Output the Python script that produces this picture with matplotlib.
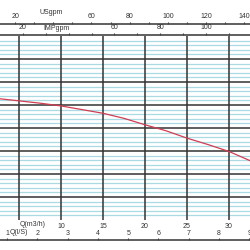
import matplotlib
matplotlib.use("Agg")
import matplotlib.pyplot as plt

# data
flow_m3h = [2.5, 5, 7.5, 10, 12.5, 15, 17.5, 20, 22.5, 25, 27.5, 30, 32.5]
head = [26.4, 25.9, 25.4, 24.8, 24.0, 23.2, 22.1, 20.7, 19.4, 17.8, 16.4, 14.9, 12.9]

m3h_ticks = [5, 10, 15, 20, 25, 30]
m3h_labels = ["", "10", "15", "20", "25", "30"]
lps_ticks = [1, 2, 3, 4, 5, 6, 7, 8, 9]
usgpm_ticks = [10, 20, 30, 40, 50, 60, 70, 80, 90, 100, 110, 120, 130, 140, 150]
usgpm_labels = ["", "20", "", "", "", "60", "", "80", "", "100", "", "120", "", "140", ""]
impgpm_ticks = [20, 30, 40, 50, 60, 70, 80, 90, 100, 110, 120]
impgpm_labels = ["20", "", "", "", "60", "", "80", "", "100", "", "120"]

plt.rcParams["font.family"] = ["Liberation Sans", "DejaVu Sans"]
TXT = "#333333"
FS = 5.0

fig = plt.figure(figsize=(2.5, 2.5), dpi=100)
px = 8.4  # px per m3/h
x0 = 5 - 19 / px
x1 = 5 + 231 / px
ax = fig.add_axes([0, 30 / 250, 1, 184 / 250])
ax.set_xlim(x0, x1)
ax.set_ylim(0, 40)
for s in ax.spines.values():
    s.set_visible(False)

for h in range(1, 40):
    if h % 5:
        ax.axhline(h, color="#aadbe3", lw=0.9, zorder=1)
for h in range(5, 40, 5):
    ax.axhline(h, color="#333333", lw=1.1, zorder=2)
for q in m3h_ticks:
    ax.axvline(q, color="#333333", lw=1.1, zorder=2)

ax.plot(flow_m3h, head, color="#d23c52", lw=0.9, zorder=3)

ax.set_yticks([])
ax.set_xticks(m3h_ticks)
ax.set_xticklabels(m3h_labels, fontsize=FS, color=TXT)
ax.tick_params(axis="x", length=0, pad=1.8)
fig.text(33 / 250, 1 - 225 / 250, "Q(m3/h)", fontsize=FS, color=TXT, ha="center", va="center")

H = 184.0
def yloc(ypix):
    return 1 + (36 - ypix) / H

def style(sec):
    sec.set_alignment("top")
    sec.tick_params(axis="x", length=1.6, width=0.8, pad=0.8, colors="#333333", labelsize=FS)
    sec.spines["top"].set_color("#444444")
    sec.spines["top"].set_linewidth(1.2)

# Q(l/s)
sec_l = ax.secondary_xaxis(yloc(240), functions=(lambda q: q / 3.6, lambda l: l * 3.6))
style(sec_l)
sec_l.set_xticks(lps_ticks)
sec_l.set_xticklabels([str(v) for v in lps_ticks], fontsize=FS, color=TXT)
fig.text(18.5 / 250, 1 - 233 / 250, "Q(l/S)", fontsize=FS, color=TXT, ha="center", va="center")

# USgpm
sec_us = ax.secondary_xaxis(yloc(23.7), functions=(lambda q: q * 4.4029, lambda g: g / 4.4029))
style(sec_us)
sec_us.set_xticks(usgpm_ticks)
sec_us.set_xticklabels(usgpm_labels, fontsize=FS, color=TXT)
fig.text(51 / 250, 1 - 13 / 250, "USgpm", fontsize=FS, color=TXT, ha="center", va="center")

# IMPgpm
sec_imp = ax.secondary_xaxis(yloc(34.7), functions=(lambda q: q * 3.6662, lambda g: g / 3.6662))
style(sec_imp)
sec_imp.set_xticks(impgpm_ticks)
sec_imp.set_xticklabels(impgpm_labels, fontsize=FS, color=TXT)
fig.text(57 / 250, 1 - 28.5 / 250, "IMPgpm", fontsize=FS, color=TXT, ha="center", va="center")

fig.savefig("out.png", dpi=100)
